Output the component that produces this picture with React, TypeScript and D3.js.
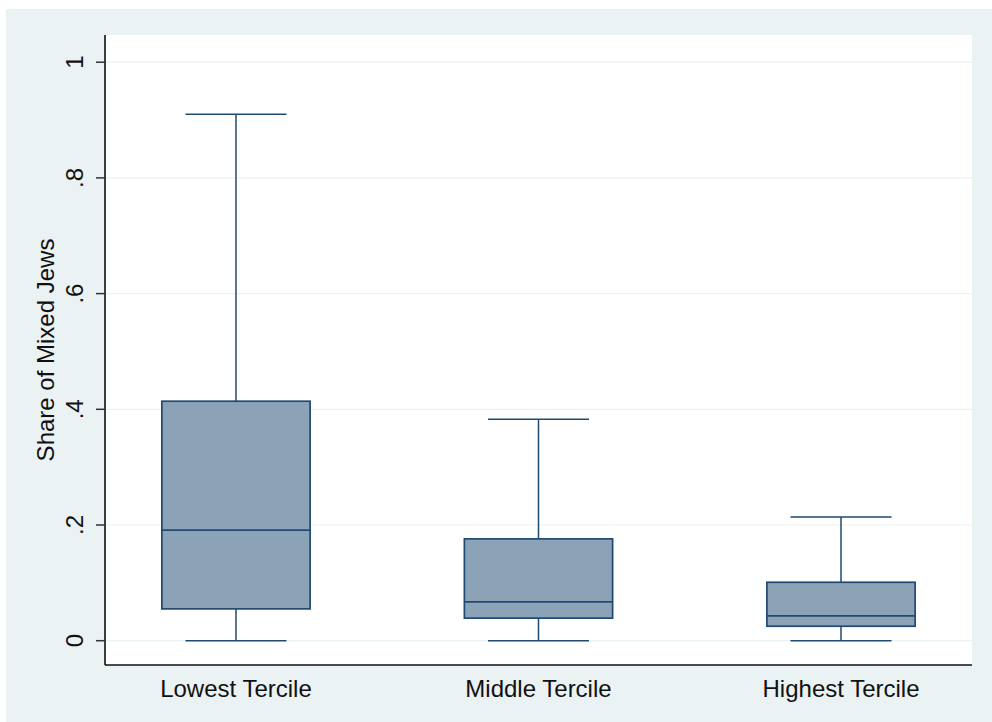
import React from 'react';
import * as d3 from 'd3';

const categories = ['Lowest Tercile', 'Middle Tercile', 'Highest Tercile'];
const whiskerLow = [0, 0, 0];
const q1 = [0.055, 0.039, 0.025];
const median = [0.191, 0.067, 0.043];
const q3 = [0.414, 0.176, 0.101];
const whiskerHigh = [0.91, 0.383, 0.214];
const yTicks = [0, 0.2, 0.4, 0.6, 0.8, 1];
const yTickLabels = ['0', '.2', '.4', '.6', '.8', '1'];
const yTitle = 'Share of Mixed Jews';

const W = 992;
const H = 722;
const plot = { left: 105, top: 35, right: 972, bottom: 665 };

const BG = '#EAF2F3';
const NAVY = '#1F4A73';
const FILL = '#8CA2B7';
const FONT = '"Liberation Sans", Arial, sans-serif';

export default function App() {
  const x = d3.scalePoint<string>()
    .domain(categories)
    .range([plot.left, plot.right])
    .padding(0.433);

  const y = d3.scaleLinear()
    .domain([0, 1])
    .range([640.7, 62.2]);

  const step = x.step();
  const boxW = step * 0.49;
  const capW = step * 0.334;

  return (
    <div style={{ position: 'absolute', left: 0, top: 0 }}>
      <svg width={W} height={H} style={{ display: 'block' }} fontFamily={FONT}>
        <rect x={0} y={0} width={W} height={H} fill="#ffffff" />
        <rect x={6} y={9} width={W - 6} height={H - 9} fill={BG} />
        <rect x={plot.left} y={plot.top} width={plot.right - plot.left} height={plot.bottom - plot.top} fill="#ffffff" />

        {/* gridlines */}
        {yTicks.map(t => (
          <line key={'g' + t} x1={plot.left} x2={plot.right} y1={y(t)} y2={y(t)} stroke={BG} strokeWidth={1.2} />
        ))}

        {/* boxes */}
        {categories.map((c, i) => {
          const cx = x(c) as number;
          return (
            <g key={c}>
              <line x1={cx} x2={cx} y1={y(q3[i])} y2={y(whiskerHigh[i])} stroke={NAVY} strokeWidth={1.5} />
              <line x1={cx} x2={cx} y1={y(q1[i])} y2={y(whiskerLow[i])} stroke={NAVY} strokeWidth={1.5} />
              <line x1={cx - capW / 2} x2={cx + capW / 2} y1={y(whiskerHigh[i])} y2={y(whiskerHigh[i])} stroke={NAVY} strokeWidth={1.5} />
              <line x1={cx - capW / 2} x2={cx + capW / 2} y1={y(whiskerLow[i])} y2={y(whiskerLow[i])} stroke={NAVY} strokeWidth={1.5} />
              <rect x={cx - boxW / 2} y={y(q3[i])} width={boxW} height={y(q1[i]) - y(q3[i])}
                fill={FILL} stroke={NAVY} strokeWidth={1.7} />
              <line x1={cx - boxW / 2} x2={cx + boxW / 2} y1={y(median[i])} y2={y(median[i])} stroke={NAVY} strokeWidth={1.7} />
            </g>
          );
        })}

        {/* axes */}
        <line x1={plot.left} x2={plot.left} y1={plot.top} y2={plot.bottom} stroke="#111" strokeWidth={1.6} />
        <line x1={plot.left} x2={plot.right} y1={plot.bottom} y2={plot.bottom} stroke="#111" strokeWidth={1.6} />

        {yTicks.map((t, i) => (
          <g key={'t' + t}>
            <line x1={plot.left - 9} x2={plot.left} y1={y(t)} y2={y(t)} stroke="#333" strokeWidth={1.5} />
            <text transform={`translate(${83},${y(t)}) rotate(-90)`} textAnchor="middle" fontSize={24} fill="#111">
              {yTickLabels[i]}
            </text>
          </g>
        ))}

        <text transform={`translate(${54},${(plot.top + plot.bottom) / 2}) rotate(-90)`} textAnchor="middle" fontSize={24} fill="#111">
          {yTitle}
        </text>

        {categories.map(c => (
          <text key={'l' + c} x={x(c) as number} y={697} textAnchor="middle" fontSize={24} fill="#111">
            {c}
          </text>
        ))}
      </svg>
    </div>
  );
}
